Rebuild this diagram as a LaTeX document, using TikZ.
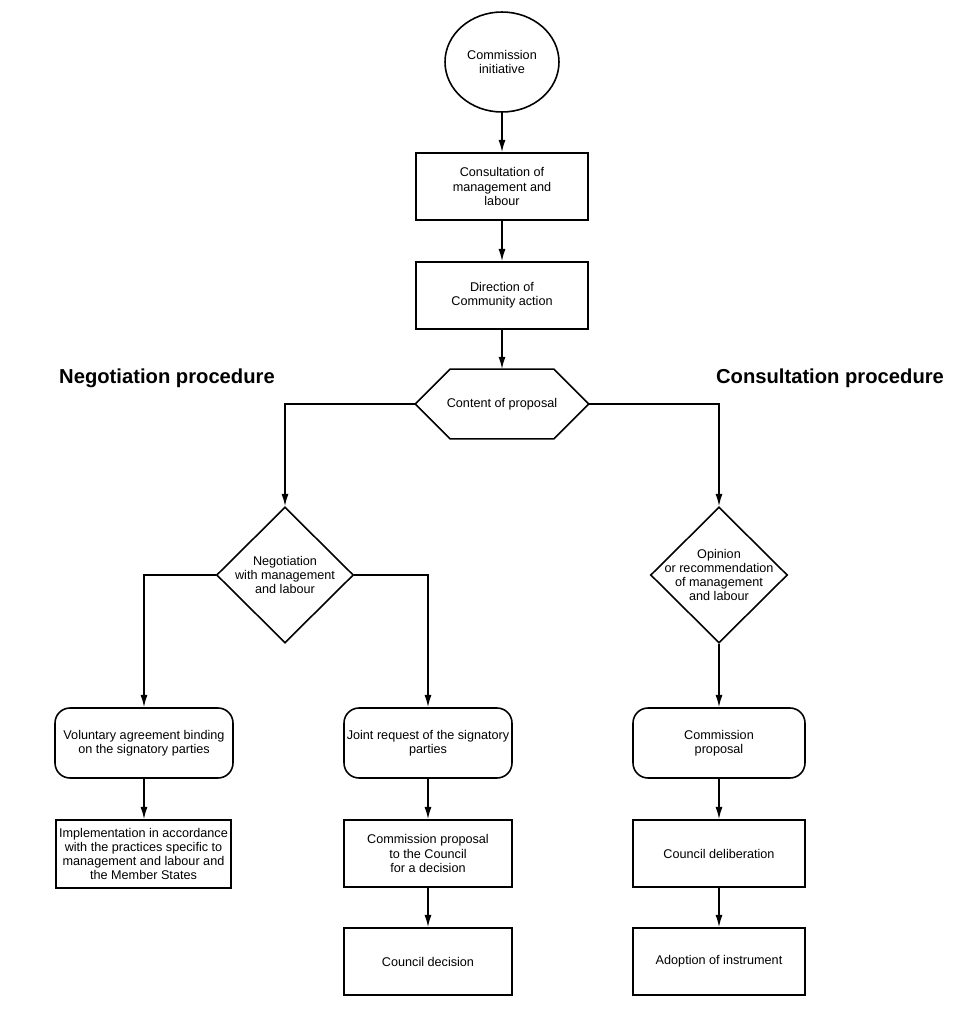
\documentclass[tikz,border=0pt]{standalone}
\usepackage{fontspec}
\setmainfont{Liberation Sans}
\usetikzlibrary{shapes.geometric,arrows.meta,calc}
\begin{document}
\begin{tikzpicture}[x=0.02cm,y=-0.02cm,
  every node/.style={font=\fontsize{7.2}{8}\selectfont, align=center, inner sep=1pt},
  arr/.style={line width=0.9pt,-{Latex[length=7pt,width=4pt]}},
  box/.style={draw,line width=0.9pt,minimum width=3.44cm,minimum height=1.34cm},
  rbox/.style={box,rounded corners=0.3cm,minimum height=1.4cm},
  diam/.style={draw,line width=0.9pt,diamond,minimum width=2.74cm,minimum height=2.72cm,inner sep=0pt},
  title/.style={font=\fontsize{11.5}{13}\selectfont\bfseries}
]
\useasboundingbox (0,0) rectangle (979,1028);

% titles
\node[title] (tneg) at (167,378) {Negotiation procedure};
\node[title] (tcon) at (830,378) {Consultation procedure};

% main trunk
\node[draw,line width=0.9pt,ellipse,minimum width=2.28cm,minimum height=2.0cm,inner sep=0pt] (init) at (502,62) {Commission\\initiative};
\node[box] (cons) at (502,186.5) {Consultation of\\management and\\labour};
\node[box] (dir) at (502,295.5) {Direction of\\Community action};
\node[minimum width=3.46cm,minimum height=1.38cm,inner sep=0pt] (hex) at (502,404) {Content of proposal};
\draw[line width=0.9pt] (hex.west) -- ($(hex.north west)+(35,0)$) -- ($(hex.north east)+(-35,0)$) -- (hex.east)
  -- ($(hex.south east)+(-35,0)$) -- ($(hex.south west)+(35,0)$) -- cycle;

% diamonds
\node[diam] (neg) at (285,575) {};
\node at (neg) {Negotiation\\with management\\and labour};
\node[diam] (opi) at (719,575) {};
\node at (opi) {Opinion\\or recommendation\\of management\\and labour};

% left column
\node[rbox,minimum width=3.56cm] (vol) at (144,743) {Voluntary agreement binding\\on the signatory parties};
\node[box,minimum width=3.5cm,minimum height=1.36cm] (impl) at (143.5,854) {Implementation in accordance\\with the practices specific to\\management and labour and\\the Member States};

% middle column
\node[rbox,minimum width=3.36cm] (joint) at (428,743) {Joint request of the signatory\\parties};
\node[box,minimum width=3.36cm] (cprop) at (428,853.5) {Commission proposal\\to the Council\\for a decision};
\node[box,minimum width=3.36cm] (cdec) at (428,961.5) {Council decision};

% right column
\node[rbox] (comp) at (719,743) {Commission\\proposal};
\node[box] (cdel) at (719,853.5) {Council deliberation};
\node[box] (adopt) at (719,961.5) {Adoption of instrument};

% connectors
\draw[arr] (init.south) -- (cons.north);
\draw[arr] (cons.south) -- (dir.north);
\draw[arr] (dir.south) -- (hex.north);
\draw[arr] (hex.west) -| (neg.north);
\draw[arr] (hex.east) -| (opi.north);
\draw[arr] (neg.west) -| (vol.north);
\draw[arr] (neg.east) -| (joint.north);
\draw[arr] (opi.south) -- (comp.north);
\draw[arr] (vol.south) -- (vol.south |- impl.north);
\draw[arr] (joint.south) -- (cprop.north);
\draw[arr] (cprop.south) -- (cdec.north);
\draw[arr] (comp.south) -- (cdel.north);
\draw[arr] (cdel.south) -- (adopt.north);
\end{tikzpicture}
\end{document}
